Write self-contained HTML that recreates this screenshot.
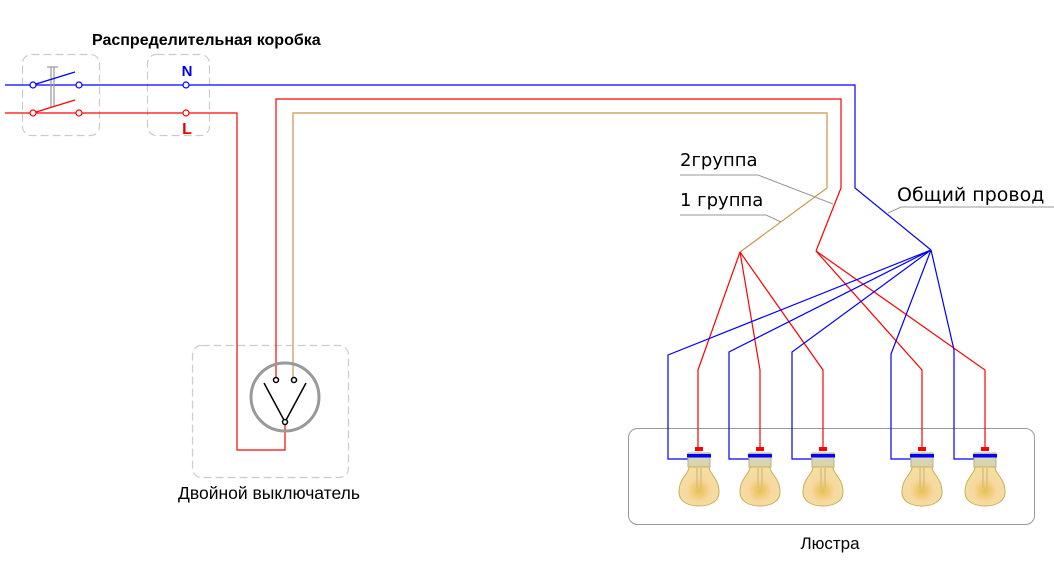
<!DOCTYPE html>
<html><head><meta charset="utf-8"><style>
html,body{margin:0;padding:0;background:#fff;width:1054px;height:563px;overflow:hidden}
svg{display:block}
</style></head><body>
<svg width="1054" height="563" viewBox="0 0 1054 563" xmlns="http://www.w3.org/2000/svg">
<defs>
<radialGradient id="bg" cx="0.5" cy="0.6" r="0.6">
<stop offset="0" stop-color="#e8c050"/><stop offset="0.5" stop-color="#f8d8a0"/><stop offset="1" stop-color="#f4e0a0"/>
</radialGradient>
<g id="bulb">
<rect x="-11" y="3" width="22" height="14" fill="#d8d4b0" stroke="#b8b090" stroke-width="1"/>
<path d="M-10,17 C-10,24 -20,28 -20,42 C-20,52 -10,56 0,56 C10,56 20,52 20,42 C20,28 10,24 10,17 Z" fill="url(#bg)" stroke="#c8b060" stroke-width="1"/>
<path d="M-2,18 L-2,38 M2,18 L2,38" stroke="#d8c080" stroke-width="1.5"/>
<rect x="-4" y="-3" width="8" height="4" fill="#f00"/>
<rect x="-12" y="4" width="24" height="3.5" fill="#00f"/>
</g>
</defs>
<g font-family="'Liberation Sans',sans-serif">
<text x="92" y="45" font-size="16" font-weight="bold">Распределительная коробка</text>
<text x="187" y="76" font-size="15" font-weight="bold" fill="#0000ee" text-anchor="middle">N</text>
<text x="187" y="134" font-size="16" font-weight="bold" fill="#ee0000" text-anchor="middle">L</text>
<text x="269" y="499" font-size="17.5" text-anchor="middle">Двойной выключатель</text>
<text x="830" y="549" font-size="17" text-anchor="middle">Люстра</text>
</g>
<g font-family="'DejaVu Sans',sans-serif" font-size="18">
<text x="680" y="166">2группа</text>
<text x="680" y="206">1 группа</text>
<text x="897" y="201" font-size="19">Общий провод</text>
</g>
<g fill="none" stroke="#ccc" stroke-width="1.2" stroke-dasharray="8,4">
<rect x="22.5" y="54.5" width="77" height="81" rx="9"/>
<rect x="147.5" y="54.5" width="62" height="81" rx="9"/>
<rect x="192.5" y="345.5" width="156" height="132" rx="9"/>
</g>
<rect x="628.5" y="428.5" width="406" height="96" rx="9" fill="none" stroke="#999" stroke-width="1"/>
<g fill="none" stroke="#999" stroke-width="1">
<polyline points="680,175 758,175 833,204"/>
<polyline points="680,215 766,215 781,222"/>
<polyline points="1054,207 901,207 888,213"/>
</g>
<g fill="none" stroke-width="1.2">
<polyline stroke="#00f" points="5,85 855,85 855,188 931,250"/>
<polyline stroke="#f00" points="5,113 237,113 237,450 285,450 285,424"/>
<polyline stroke="#f00" points="276,378 276,99 841,99 841,188 816,251"/>
<polyline stroke="#c8964a" points="293,378 293,113 827,113 827,188 740,252"/>
<g stroke="#f00">
<polyline points="740,252 698,370 698,447"/>
<polyline points="740,252 760,370 760,447"/>
<polyline points="740,252 823,370 823,447"/>
<polyline points="816,251 922,370 922,447"/>
<polyline points="816,251 985,370 985,447"/>
</g>
<g stroke="#00f">
<polyline points="931,250 668,355 668,459 690,459"/>
<polyline points="931,250 729,352 729,459 750,459"/>
<polyline points="931,250 792,352 792,459 812,459"/>
<polyline points="931,250 891,354 891,459 912,459"/>
<polyline points="931,250 954,350 954,459 975,459"/>
</g>
</g>
<g stroke="#999" stroke-width="1.2" fill="none">
<line x1="51" y1="67" x2="51" y2="107"/><line x1="54" y1="67" x2="54" y2="107"/>
<line x1="47" y1="67" x2="58" y2="67"/>
</g>
<line x1="36" y1="84" x2="75" y2="72" stroke="#00f" stroke-width="1.2"/>
<line x1="36" y1="112" x2="75" y2="100" stroke="#f00" stroke-width="1.2"/>
<g fill="#fff" stroke-width="1.2">
<circle cx="33" cy="85" r="3" stroke="#00f"/><circle cx="79" cy="85" r="3" stroke="#00f"/>
<circle cx="186" cy="85" r="3" stroke="#00f"/>
<circle cx="33" cy="113" r="3" stroke="#f00"/><circle cx="79" cy="113" r="3" stroke="#f00"/>
<circle cx="186" cy="113" r="3" stroke="#f00"/>
</g>
<circle cx="285" cy="397" r="34" fill="none" stroke="#999" stroke-width="3"/>
<g stroke="#000" stroke-width="1.5" fill="#fff">
<line x1="264" y1="383" x2="285" y2="422"/><line x1="306" y1="383" x2="285" y2="422"/>
<circle cx="276" cy="380" r="2.5"/><circle cx="294" cy="380" r="2.5"/><circle cx="285" cy="422" r="2.5"/>
</g>
<use href="#bulb" x="699" y="450"/>
<use href="#bulb" x="760" y="450"/>
<use href="#bulb" x="823" y="450"/>
<use href="#bulb" x="922" y="450"/>
<use href="#bulb" x="985" y="450"/>
</svg>
</body></html>
